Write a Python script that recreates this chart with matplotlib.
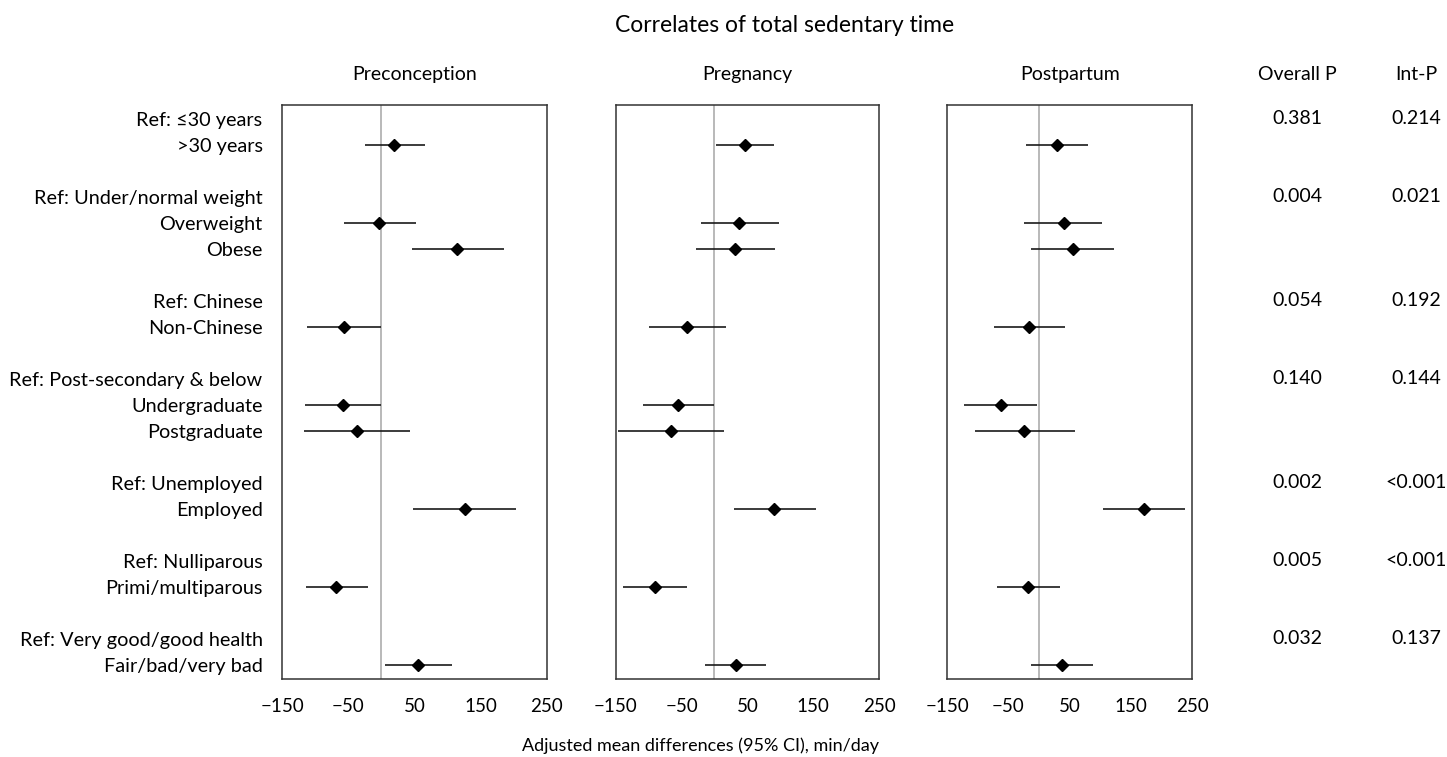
import numpy as np
import matplotlib
matplotlib.use("Agg")
import matplotlib.pyplot as plt
from matplotlib.transforms import blended_transform_factory

plt.rcParams['font.family'] = ['Lato', 'DejaVu Sans']

# row labels, top to bottom (blank rows separate groups)
row_labels = ['Ref: \u226430 years', '>30 years', '',
              'Ref: Under/normal weight', 'Overweight', 'Obese', '',
              'Ref: Chinese', 'Non-Chinese', '',
              'Ref: Post-secondary & below', 'Undergraduate', 'Postgraduate', '',
              'Ref: Unemployed', 'Employed', '',
              'Ref: Nulliparous', 'Primi/multiparous', '',
              'Ref: Very good/good health', 'Fair/bad/very bad']

# rows that carry an estimate
est_rows = [1, 4, 5, 8, 11, 12, 15, 18, 21]

panels = ['Preconception', 'Pregnancy', 'Postpartum']

pre_est = [20, -3, 115, -56, -58, -37, 126, -68, 56]
pre_lo = [-24, -56, 46, -112, -115, -117, 48, -114, 6]
pre_hi = [66, 53, 185, 0, -1, 43, 204, -20, 107]

preg_est = [46, 38, 31, -41, -55, -66, 90, -90, 33]
preg_lo = [2, -21, -28, -99, -109, -147, 29, -139, -14]
preg_hi = [90, 98, 92, 17, -1, 15, 155, -41, 79]

post_est = [29, 40, 56, -16, -62, -24, 172, -18, 38]
post_lo = [-22, -24, -13, -74, -122, -105, 105, -69, -13]
post_hi = [80, 103, 123, 43, -3, 58, 239, 34, 88]

# p-values, on the "Ref" rows
p_rows = [0, 3, 7, 10, 14, 17, 20]
overall_p = ['0.381', '0.004', '0.054', '0.140', '0.002', '0.005', '0.032']
int_p = ['0.214', '0.021', '0.192', '0.144', '<0.001', '<0.001', '0.137']

xticks = [-150, -50, 50, 150, 250]

W, H = 1447, 757
fig = plt.figure(figsize=(W / 100, H / 100), dpi=100)

boxes = [(282, 264.7), (615.7, 263.3), (947.3, 244.7)]
top, bottom = 105.3, 678.7
data = [(pre_est, pre_lo, pre_hi), (preg_est, preg_lo, preg_hi), (post_est, post_lo, post_hi)]

fs = 14
axes = []
for i, ((x0, w), (est, lo, hi)) in enumerate(zip(boxes, data)):
    ax = fig.add_axes([x0 / W, 1 - bottom / H, w / W, (bottom - top) / H])
    ax.set_xlim(-150, 250)
    ax.set_ylim(21.53, -0.52)
    ax.axvline(0, color='#a6a6a6', lw=1.1, zorder=1)
    ax.hlines(est_rows, lo, hi, color='#1a1a1a', lw=1.2, zorder=2)
    ax.plot(est, est_rows, 'D', color='black', ms=6.3, zorder=3)
    ax.set_xticks(xticks)
    ax.set_xticklabels([f'{t}'.replace('-', '\u2212') for t in xticks], fontsize=13.5)
    ax.tick_params(axis='x', length=0, pad=14)
    if i == 0:
        ax.set_yticks(range(len(row_labels)))
        ax.set_yticklabels(row_labels, fontsize=14.3)
        ax.tick_params(axis='y', length=0, pad=14)
    else:
        ax.set_yticks([])
    for s in ax.spines.values():
        s.set_color('#333333')
        s.set_linewidth(1.1)
    ax.text(0.5, 1.053, panels[i], transform=ax.transAxes, ha='center', va='center', fontsize=fs)
    axes.append(ax)

ax3 = axes[2]
tr = blended_transform_factory(fig.transFigure, ax3.transData)
for r, op, ip in zip(p_rows, overall_p, int_p):
    fig.text(1297 / W, r, op, transform=tr, ha='center', va='center', fontsize=fs)
    fig.text(1416 / W, r, ip, transform=tr, ha='center', va='center', fontsize=fs)
fig.text(1297 / W, 1 - 75 / H, 'Overall P', ha='center', va='center', fontsize=fs)
fig.text(1416 / W, 1 - 75 / H, 'Int-P', ha='center', va='center', fontsize=fs)

fig.text(785 / W, 1 - 26 / H, 'Correlates of total sedentary time', ha='center', va='center', fontsize=16.5)
fig.text(701 / W, 1 - 746 / H, 'Adjusted mean differences (95% CI), min/day', ha='center', va='center', fontsize=13)

fig.savefig('out.png', dpi=100, facecolor='white')
